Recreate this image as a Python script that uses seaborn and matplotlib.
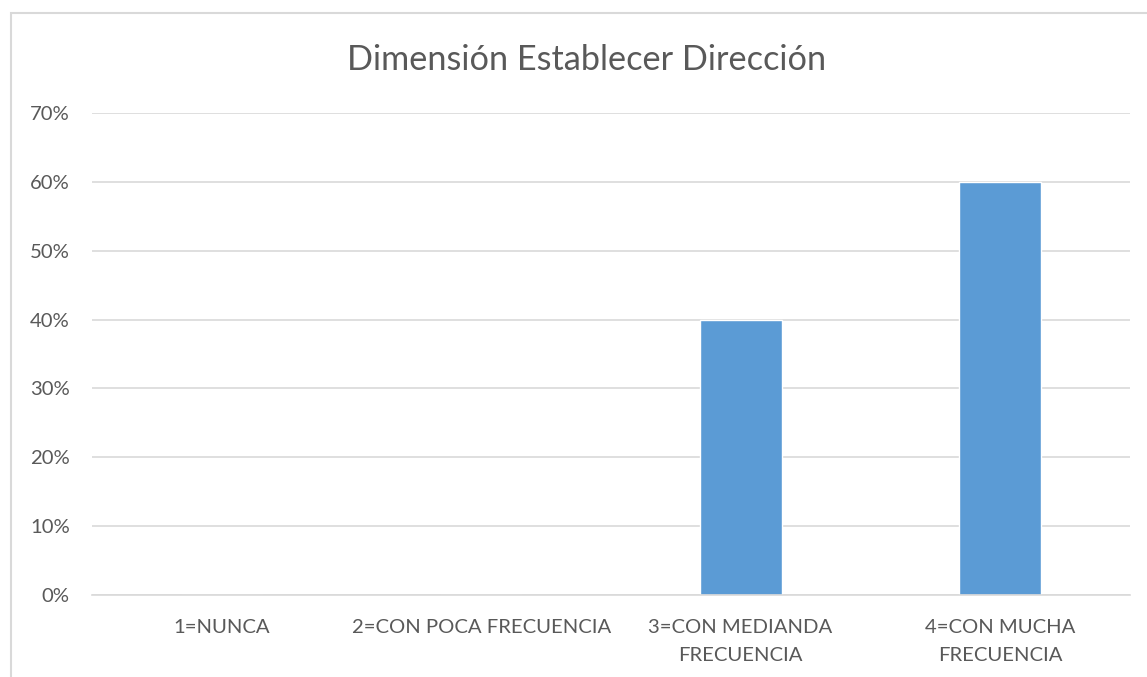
import matplotlib
matplotlib.use("Agg")
import matplotlib.pyplot as plt
from matplotlib.patches import Rectangle
from matplotlib.ticker import PercentFormatter
import seaborn as sns

# chart data
categories = ["1=NUNCA", "2=CON POCA FRECUENCIA", "3=CON MEDIANDA\nFRECUENCIA", "4=CON MUCHA\nFRECUENCIA"]
values = [0, 0, 40, 60]

sns.set_style("white")
plt.rcParams['font.family'] = ['Lato', 'DejaVu Sans']

fig = plt.figure(figsize=(11.47, 6.77), dpi=100)
ax = fig.add_axes([0.0802, 0.1211, 0.9048, 0.712])

# outer chart frame (only left/top visible, rest is cropped)
fig.patches.append(Rectangle((11 / 1147, -0.1), 1.2, 1 - 13 / 677 + 0.1,
                             transform=fig.transFigure, fill=False,
                             edgecolor='#D9D9D9', linewidth=1.5))

sns.barplot(x=categories, y=values, color='#5B9BD5', width=0.316, saturation=1, ax=ax)

ax.set_ylim(0, 70)
ax.set_xlim(-0.5, 3.5)
ax.set_yticks(range(0, 71, 10))
ax.yaxis.set_major_formatter(PercentFormatter(decimals=0))
ax.yaxis.grid(True, color='#D9D9D9', linewidth=1.2)
ax.set_axisbelow(True)
for s in ['top', 'right', 'left']:
    ax.spines[s].set_visible(False)
ax.spines['bottom'].set_color('#D9D9D9')
ax.spines['bottom'].set_linewidth(1.2)
ax.tick_params(axis='both', length=0, labelsize=14.6, colors='#595959')
ax.tick_params(axis='y', pad=16)
ax.set_xlabel('')

# category labels drawn by hand so the line spacing can be wider
ax.set_xticks(range(len(categories)))
ax.set_xticklabels([])
for i, c in enumerate(categories):
    ax.annotate(c, xy=(i, 0), xycoords=('data', 'axes fraction'),
                xytext=(0, -17), textcoords='offset points',
                ha='center', va='top', fontsize=14.6, color='#595959',
                linespacing=1.8)

fig.text(587 / 1147, 1 - 60 / 677, "Dimensión Establecer Dirección",
         ha='center', va='center', fontsize=24.7, color='#595959')

fig.savefig("out.png", dpi=100)
